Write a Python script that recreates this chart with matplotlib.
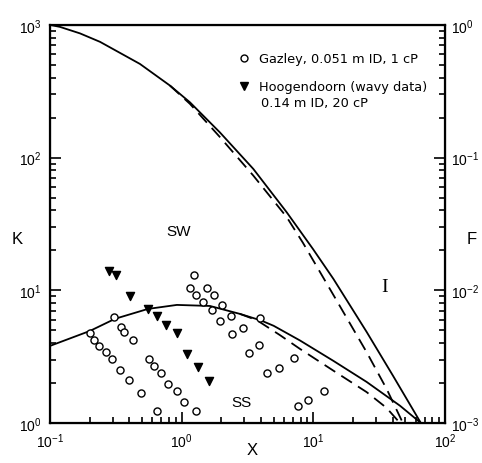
import matplotlib
matplotlib.use("Agg")
import matplotlib.pyplot as plt
from matplotlib.lines import Line2D

plt.rcParams['font.family'] = ['Liberation Sans', 'DejaVu Sans']
plt.rcParams['mathtext.fontset'] = 'custom'
plt.rcParams['mathtext.rm'] = 'Liberation Sans'
plt.rcParams['mathtext.it'] = 'Liberation Sans'
plt.rcParams['mathtext.bf'] = 'Liberation Sans'

# upper boundary (stratified -> intermittent), solid and dashed
upper_solid_x = [0.1, 0.119, 0.169, 0.24, 0.482, 0.815, 1.156, 1.95, 3.50, 6.27, 9.93, 14.2, 25.4, 40.4, 65.6]
upper_solid_k = [1000, 966, 863, 745, 508, 349, 261, 155, 82.2, 38.8, 20.5, 12.2, 4.86, 2.26, 1.0]
upper_dash_x = [0.815, 1.156, 1.95, 3.50, 6.27, 8.34, 14.2, 25.4, 36.0, 47.9]
upper_dash_k = [349, 254, 143, 73.2, 35.7, 22.8, 9.23, 3.42, 1.81, 1.0]

# lower boundary (smooth -> wavy), solid and dashed
lower_solid_x = [0.1, 0.201, 0.312, 0.555, 0.92, 1.64, 2.77, 4.0, 5.0, 7.91, 14.2, 25.4, 45.5, 65.6]
lower_solid_k = [3.81, 4.94, 6.1, 7.24, 7.76, 7.62, 6.64, 5.93, 5.4, 4.19, 2.94, 2.04, 1.35, 1.0]
lower_dash_x = [2.77, 3.73, 5.57, 7.91, 14.2, 25.4, 36.0, 45.5]
lower_dash_k = [6.64, 5.95, 4.6, 3.62, 2.48, 1.71, 1.30, 1.0]

gazley_x = [0.201, 0.216, 0.237, 0.265, 0.297, 0.340, 0.397, 0.491, 0.308, 0.344,
            0.366, 0.430, 0.568, 0.617, 0.697, 0.791, 0.927, 1.05, 0.645, 1.28,
            1.25, 1.16, 1.28, 1.46, 1.69, 1.95, 2.40, 1.57, 1.76, 2.01,
            2.36, 2.90, 3.93, 3.23, 3.85, 4.42, 5.51, 7.12, 7.68, 9.15, 12.1]
gazley_k = [4.78, 4.25, 3.79, 3.42, 3.01, 2.51, 2.12, 1.69, 6.27, 5.33,
            4.83, 4.21, 3.01, 2.68, 2.37, 1.97, 1.74, 1.44, 1.23, 1.23,
            13.1, 10.4, 9.29, 8.13, 7.16, 5.85, 4.69, 10.4, 9.23, 7.80,
            6.45, 5.21, 6.16, 3.37, 3.88, 2.39, 2.59, 3.09, 1.34, 1.49, 1.74]

hoog_x = [0.282, 0.315, 0.405, 0.557, 0.645, 0.760, 0.916, 1.10, 1.32, 1.62]
hoog_k = [13.9, 13.1, 9.03, 7.24, 6.38, 5.49, 4.78, 3.32, 2.63, 2.07]

fig = plt.figure(figsize=(4.82, 4.64), dpi=100)
ax = fig.add_axes([0.1037, 0.0862, 0.8195, 0.858])
ax.set_xscale('log')
ax.set_yscale('log')
ax.set_xlim(0.1, 100)
ax.set_ylim(1, 1000)

lw = 1.3
ax.plot(upper_solid_x, upper_solid_k, color='black', lw=lw)
ax.plot(upper_dash_x, upper_dash_k, color='black', lw=lw, dashes=(7, 4))
ax.plot(lower_solid_x, lower_solid_k, color='black', lw=lw)
ax.plot(lower_dash_x, lower_dash_k, color='black', lw=lw, dashes=(7, 4))

ax.scatter(gazley_x, gazley_k, s=26, facecolors='white', edgecolors='black',
           linewidths=1.0, zorder=3)
ax.scatter(hoog_x, hoog_k, s=34, marker='v', color='black', zorder=3)

for s in ax.spines.values():
    s.set_linewidth(1.6)
ax.tick_params(which='both', direction='in', top=False, right=False,
               labelsize=10, width=1.2)
ax.tick_params(which='major', length=8, pad=6)
ax.tick_params(which='minor', length=4)

ax2 = ax.twinx()
ax2.set_yscale('log')
ax2.set_ylim(1e-3, 1)
ax2.tick_params(which='both', direction='in', labelsize=10, width=1.2)
ax2.tick_params(which='major', length=8, pad=4)
ax2.tick_params(which='minor', length=4)

fig.text(17 / 482, 1 - 240 / 464, 'K', fontsize=12, ha='center', va='center')
fig.text(472 / 482, 1 - 240 / 464, 'F', fontsize=12, ha='center', va='center')
fig.text(252 / 482, 1 - 451 / 464, 'X', fontsize=12, ha='center', va='center')

ax.text(0.94, 28.2, 'SW', fontsize=11, ha='center', va='center')
ax.text(2.87, 1.44, 'SS', fontsize=11, ha='center', va='center')
ax.text(35.0, 10.6, 'I', fontsize=14, ha='center', va='center', family='Liberation Serif')

# legend drawn by hand
leg_font = dict(fontsize=9.3, family='DejaVu Sans', va='center')
fig.add_artist(Line2D([244 / 482], [1 - 59 / 464], marker='o', ms=5, mfc='white',
                      mec='black', mew=1.0, transform=fig.transFigure))
fig.text(259 / 482, 1 - 59 / 464, 'Gazley, 0.051 m ID, 1 cP', **leg_font)
fig.add_artist(Line2D([244 / 482], [1 - 87 / 464], marker='v', ms=6, color='black',
                      transform=fig.transFigure))
fig.text(259 / 482, 1 - 87 / 464, 'Hoogendoorn (wavy data)', **leg_font)
fig.text(261 / 482, 1 - 103 / 464, '0.14 m ID, 20 cP', **leg_font)

fig.savefig('out.png', dpi=100)
